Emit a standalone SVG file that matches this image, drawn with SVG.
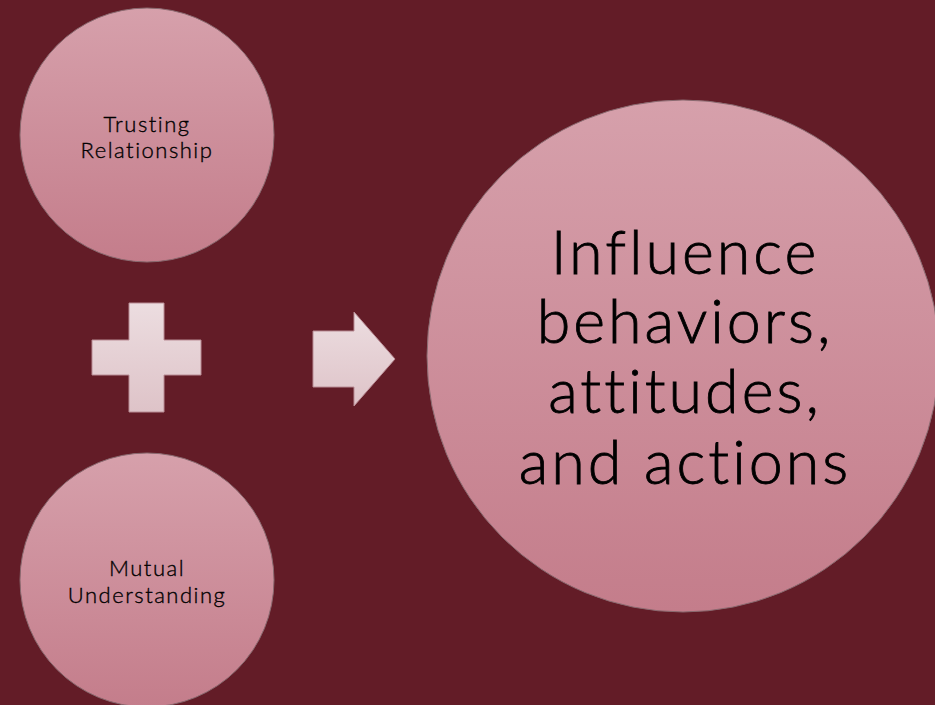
<svg xmlns="http://www.w3.org/2000/svg" width="935" height="705" viewBox="0 0 935 705">
<style>
.c{stroke:#8a6a70;stroke-width:1}
.s{stroke:#b98c95;stroke-width:1}
.t{font-family:Lato,"Open Sans",sans-serif;font-weight:300;fill:#000;stroke:#000;text-anchor:middle;font-variant-ligatures:none}
.sm{font-size:22px;letter-spacing:1.5px;stroke-width:0.35px}
.lg{font-size:61px;letter-spacing:3px;stroke-width:0.8px}
</style>
<defs>
<linearGradient id="cg" x1="0" y1="0" x2="0" y2="1">
<stop offset="0" stop-color="#d6a0ab"/>
<stop offset="1" stop-color="#c47d8b"/>
</linearGradient>
<linearGradient id="pg" x1="0" y1="0" x2="0" y2="1">
<stop offset="0" stop-color="#ecdde0"/>
<stop offset="1" stop-color="#dec3c8"/>
</linearGradient>
</defs>
<rect width="935" height="705" fill="#631c27"/>
<g id="trusting">
<circle class="c" cx="147" cy="135" r="127" fill="url(#cg)"/>
<text class="t sm" x="147" y="132">Trusting</text>
<text class="t sm" x="147" y="158">Relationship</text>
</g>
<g id="mutual">
<circle class="c" cx="147" cy="580" r="127" fill="url(#cg)"/>
<text class="t sm" x="147" y="576">Mutual</text>
<text class="t sm" x="147" y="603">Understanding</text>
</g>
<g id="influence">
<circle class="c" cx="683" cy="356" r="256" fill="url(#cg)"/>
<text class="t lg" x="685" y="274">Influence</text>
<text class="t lg" x="685" y="343">behaviors,</text>
<text class="t lg" x="685" y="413">attitudes,</text>
<text class="t lg" x="685" y="484">and actions</text>
</g>
<g id="connectors">
<path id="plus" class="s" fill="url(#pg)" d="M129,303 H164 V340 H201 V375 H164 V412 H129 V375 H92 V340 H129 Z"/>
<path id="arrow" class="s" fill="url(#pg)" d="M313,331 H354 V312 L395,359 L354,406 V387 H313 Z"/>
</g>
</svg>
